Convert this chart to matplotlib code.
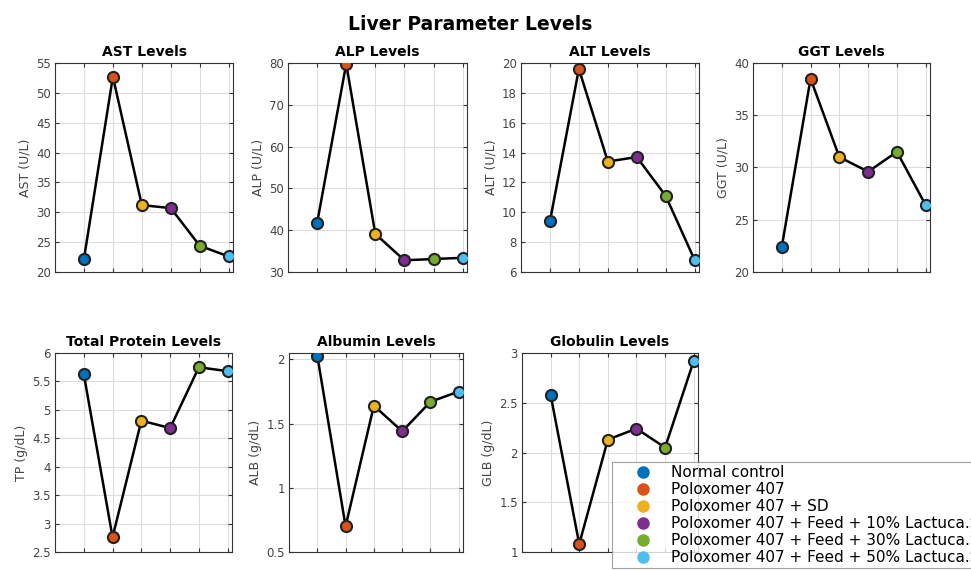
import matplotlib
matplotlib.use("Agg")
import matplotlib.pyplot as plt
from matplotlib.lines import Line2D
import numpy as np

plt.rcParams['font.family'] = ['DejaVu Sans']

groups = ["Normal control", "Poloxomer 407", "Poloxomer 407 + SD",
          "Poloxomer 407 + Feed + 10% Lactuca.Sativa",
          "Poloxomer 407 + Feed + 30% Lactuca.Sativa",
          "Poloxomer 407 + Feed + 50% Lactuca.Sativa"]
colors = ["#0072BD", "#D95319", "#EDB120", "#7E2F8E", "#77AC30", "#4DBEEE"]

ast = [22.2, 52.7, 31.2, 30.7, 24.4, 22.6]
alp = [41.7, 79.8, 39.1, 32.8, 33.1, 33.4]
alt = [9.4, 19.6, 13.4, 13.7, 11.1, 6.8]
ggt = [22.4, 38.5, 31.0, 29.6, 31.5, 26.4]
tp = [5.63, 2.76, 4.81, 4.68, 5.75, 5.68]
alb = [2.03, 0.70, 1.64, 1.44, 1.67, 1.75]
glb = [2.58, 1.08, 2.13, 2.24, 2.05, 2.92]

panels = [
    ("AST Levels", "AST (U/L)", ast, (20, 55), np.arange(20, 56, 5)),
    ("ALP Levels", "ALP (U/L)", alp, (30, 80), np.arange(30, 81, 10)),
    ("ALT Levels", "ALT (U/L)", alt, (6, 20), np.arange(6, 21, 2)),
    ("GGT Levels", "GGT (U/L)", ggt, (20, 40), np.arange(20, 41, 5)),
    ("Total Protein Levels", "TP (g/dL)", tp, (2.5, 6), np.arange(2.5, 6.01, 0.5)),
    ("Albumin Levels", "ALB (g/dL)", alb, (0.5, 2.05), [0.5, 1, 1.5, 2]),
    ("Globulin Levels", "GLB (g/dL)", glb, (1, 3), np.arange(1, 3.01, 0.5)),
]

# axes boxes in pixels: left, top, right, bottom
boxes = [(55, 63, 233, 272), (288, 63, 467, 272), (521, 63, 699, 272), (753, 63, 930, 272),
         (55, 353, 232, 552), (289, 353, 463, 552), (522, 353, 698, 552)]

W, H = 971, 570
fig = plt.figure(figsize=(W / 100, H / 100), dpi=100)
x = np.arange(1, 7)

for (title, ylabel, vals, ylim, yticks), (l, t, r, b) in zip(panels, boxes):
    ax = fig.add_axes([l / W, 1 - b / H, (r - l) / W, (b - t) / H])
    ax.plot(x, vals, color="black", lw=1.8, zorder=2)
    for xi, v, c in zip(x, vals, colors):
        ax.plot(xi, v, "o", ms=8, mfc=c, mec="#222222", mew=1.5, zorder=3)
    ax.set_xlim(0, 6.15)
    ax.set_ylim(*ylim)
    ax.set_xticks(x)
    ax.set_xticklabels([])
    ax.set_yticks(yticks)
    ax.set_yticklabels([f"{v:g}" for v in yticks])
    ax.grid(True, color="#dddddd", lw=0.8)
    ax.set_axisbelow(True)
    ax.tick_params(direction="in", top=True, right=True, length=3, labelsize=8.5,
                   colors="#333333", labelcolor="#444444", pad=3)
    for s in ax.spines.values():
        s.set_color("#333333")
    ax.set_title(title, fontsize=10, fontweight="bold", pad=5)
    ax.set_ylabel(ylabel, fontsize=9, color="#444444", labelpad=3)

fig.suptitle("Liver Parameter Levels", fontsize=13.5, fontweight="bold",
             x=470 / W, y=1 - 25 / H, va="center")

# legend sits over the lower right corner and runs off the figure edge, like the original
handles = [Line2D([], [], ls="", marker="o", ms=8, mfc=c, mec=c) for c in colors]
leg = fig.legend(handles, groups, loc="upper left", bbox_to_anchor=(612 / W, 1 - 462 / H),
                 fontsize=11, frameon=True, fancybox=False, handlelength=3.6,
                 handletextpad=0.05, borderpad=0.2, labelspacing=0.13, borderaxespad=0)
leg.get_frame().set_edgecolor("#888888")
leg.get_frame().set_linewidth(0.8)

fig.savefig("out.png", dpi=100)
